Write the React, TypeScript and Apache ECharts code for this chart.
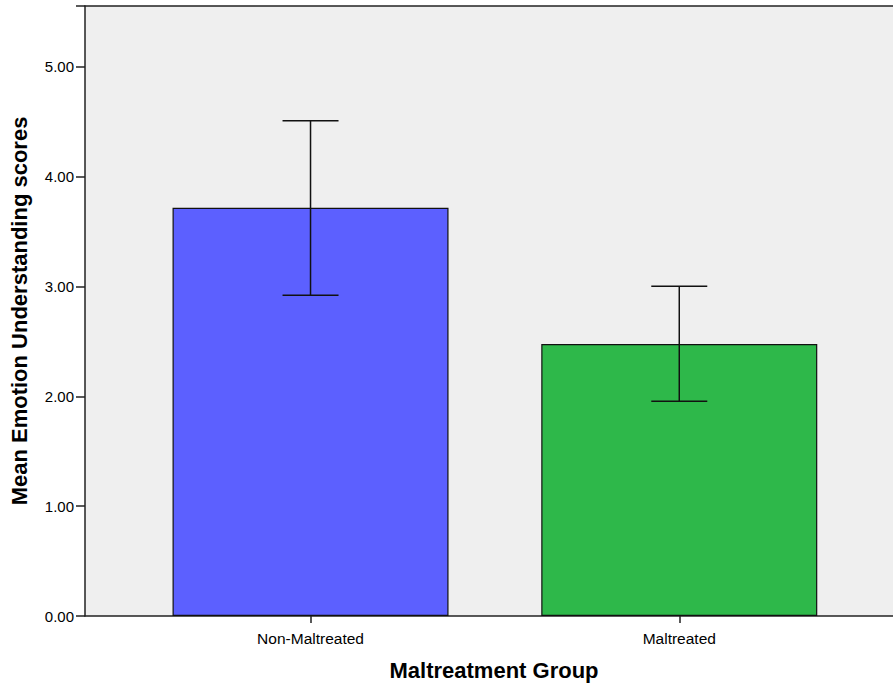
import React, { useEffect, useRef } from "react";
import * as echarts from "echarts";

// Group means with their error-bar extents
const categories = ["Non-Maltreated", "Maltreated"];
const meanScores = [3.716, 2.475];
const errorLow = [2.921, 1.955];
const errorHigh = [4.508, 3.002];
const yTicks = [0, 1, 2, 3, 4, 5];

const barColors = ["#5C60FF", "#2EB84A"];
const FONT = "'Liberation Sans', Arial, sans-serif";

export default function App() {
  const ref = useRef<HTMLDivElement>(null);

  useEffect(() => {
    if (!ref.current) return;
    const chart = echarts.init(ref.current, null, { renderer: "svg" });

    const positions = categories.map((_, i) => i + 1);

    chart.setOption({
      animation: false,
      backgroundColor: "#ffffff",
      grid: {
        left: 84,
        right: 0,
        top: 6,
        bottom: 70,
        show: true,
        backgroundColor: "#EFEFEF",
        borderWidth: 0,
      },
      xAxis: [
        {
          type: "value",
          min: 0.3884,
          max: 2.5796,
          splitLine: { show: false },
          axisLine: { show: true, onZero: false, lineStyle: { color: "#222", width: 1.5 } },
          axisTick: {
            show: true,
            customValues: positions,
            length: 7,
            lineStyle: { color: "#222", width: 1.5 },
          },
          axisLabel: {
            show: true,
            customValues: positions,
            formatter: (v: number) => categories[Math.round(v) - 1] ?? "",
            color: "#000",
            fontFamily: FONT,
            fontSize: 15.5,
            margin: 14,
          },
          name: "Maltreatment Group",
          nameLocation: "middle",
          nameGap: 43,
          nameTextStyle: {
            color: "#000",
            fontFamily: FONT,
            fontSize: 22,
            fontWeight: "bold",
            padding: [0, 0, 0, 10],
          },
        },
        {
          type: "value",
          position: "top",
          min: 0.3884,
          max: 2.5796,
          splitLine: { show: false },
          axisLine: { show: true, onZero: false, lineStyle: { color: "#222", width: 1.5 } },
          axisTick: { show: false },
          axisLabel: { show: false },
        },
      ],
      yAxis: {
        type: "value",
        min: 0,
        max: 5.553,
        interval: 1,
        splitLine: { show: false },
        axisLine: { show: true, lineStyle: { color: "#222", width: 1.5 } },
        axisTick: { show: true, length: 9, lineStyle: { color: "#222", width: 1.5 } },
        axisLabel: {
          color: "#000",
          fontFamily: FONT,
          fontSize: 15,
          margin: 11,
          formatter: (v: number) => (yTicks.includes(v) ? v.toFixed(2) : ""),
        },
        name: "Mean Emotion Understanding scores",
        nameLocation: "middle",
        nameGap: 55,
        nameTextStyle: {
          color: "#000",
          fontFamily: FONT,
          fontSize: 22,
          fontWeight: "bold",
          padding: [0, 0, 0, 0],
        },
      },
      series: [
        {
          type: "bar",
          xAxisIndex: 0,
          barWidth: 276,
          data: meanScores.map((v, i) => ({
            value: [positions[i], v],
            itemStyle: { color: barColors[i], borderColor: "#111", borderWidth: 1.2 },
          })),
          z: 2,
        },
        {
          type: "custom",
          xAxisIndex: 0,
          z: 3,
          data: meanScores.map((_, i) => [positions[i], errorLow[i], errorHigh[i]]),
          renderItem: (params: any, api: any) => {
            const x = api.value(0);
            const lo = api.coord([x, api.value(1)]);
            const hi = api.coord([x, api.value(2)]);
            const half = 28;
            const style = { stroke: "#111", lineWidth: 1.5 };
            return {
              type: "group",
              children: [
                { type: "line", shape: { x1: lo[0], y1: lo[1], x2: hi[0], y2: hi[1] }, style },
                { type: "line", shape: { x1: hi[0] - half, y1: hi[1], x2: hi[0] + half, y2: hi[1] }, style },
                { type: "line", shape: { x1: lo[0] - half, y1: lo[1], x2: lo[0] + half, y2: lo[1] }, style },
              ],
            };
          },
        },
      ],
    });

    return () => chart.dispose();
  }, []);

  return (
    <div
      ref={ref}
      style={{ position: "fixed", left: 0, top: 0, width: 893, height: 686 }}
    />
  );
}
